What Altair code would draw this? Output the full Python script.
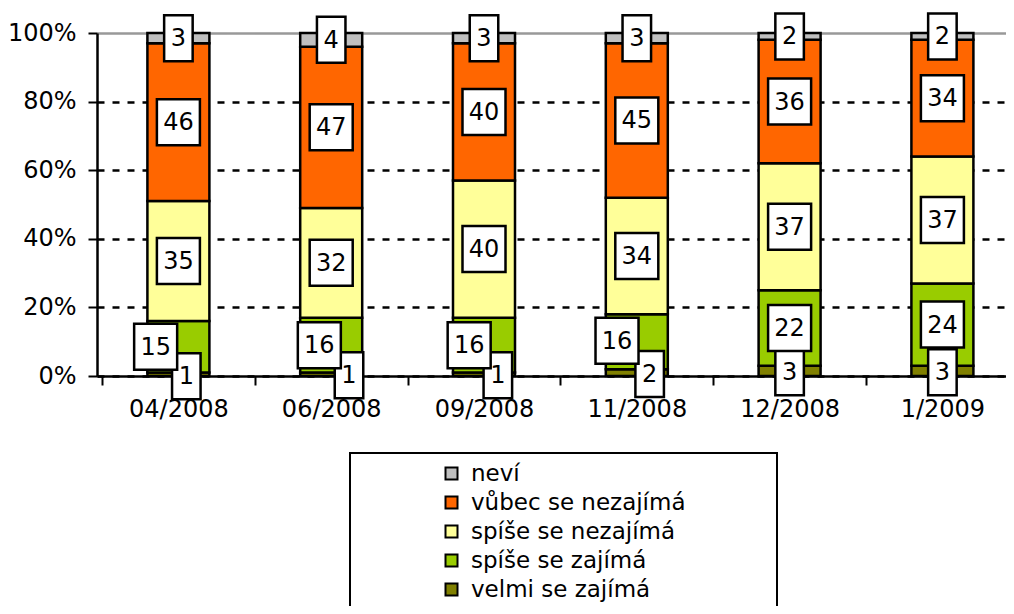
import json
import altair as alt
import pandas as pd

# ---------------- data ----------------
categories = ["04/2008", "06/2008", "09/2008", "11/2008", "12/2008", "1/2009"]
# stacking order: bottom -> top
series = ["velmi se zajímá", "spíše se zajímá", "spíše se nezajímá", "vůbec se nezajímá", "neví"]
velmi = [1, 1, 1, 2, 3, 3]
spise_zajima = [15, 16, 16, 16, 22, 24]
spise_nezajima = [35, 32, 40, 34, 37, 37]
vubec = [46, 47, 40, 45, 36, 34]
nevi = [3, 4, 3, 3, 2, 2]
values = [velmi, spise_zajima, spise_nezajima, vubec, nevi]
colors = ["#808000", "#99CC00", "#FFFF99", "#FF6600", "#C0C0C0"]

# label nudges in pixels (dx: right, dy: down) for the crowded small segments
nudge_dx = {"velmi se zajímá": [8, 18, 14, 13, 0, 0],
            "spíše se zajímá": [-23, -12, -15, -20, 0, 0]}
nudge_dy = {"velmi se zajímá": [2, 1, 1, 1.5, 1.5, 1.5],
            "spíše se zajímá": [0, 0, 0, -1, 0, 0]}

# ---------------- geometry ----------------
FONT = "DejaVu Sans"
PLOT_W, PLOT_H = 909, 343
PX_PER_CAT = 154.5
PX_PER_PCT = PLOT_H / 100.0
XMAX = -0.5 + PLOT_W / PX_PER_CAT

rows = []
for s_idx, (name, vals) in enumerate(zip(series, values)):
    for i, v in enumerate(vals):
        start = sum(values[k][i] for k in range(s_idx))
        end = start + v
        dx = nudge_dx.get(name, [0] * 6)[i]
        dy = nudge_dy.get(name, [0] * 6)[i]
        rows.append({
            "i": i, "series": name, "order": s_idx, "value": v,
            "start": start, "end": end,
            "lx": i + dx / PX_PER_CAT,
            "ly": (start + end) / 2 - dy / PX_PER_PCT,
            "digits": str(len(str(v))),
        })
df = pd.DataFrame(rows)

legend_order = series[::-1]
legend_colors = colors[::-1]

xscale = alt.Scale(domain=[-0.5, XMAX], nice=False, zero=False)
yscale = alt.Scale(domain=[0, 100], nice=False, zero=True)

yaxis = alt.Axis(
    values=[0, 20, 40, 60, 80, 100], labelExpr="datum.value + '%'",
    tickSize=9, tickWidth=2, tickColor="black",
    domainColor="black", domainWidth=2.5,
    labelFont=FONT, labelFontSize=24, labelColor="black", labelPadding=12,
    grid=True, gridWidth=2.5,
    gridColor={"condition": {"test": "datum.value === 100", "value": "#999999"}, "value": "black"},
    gridDash={"condition": {"test": "datum.value === 100", "value": [1, 0]}, "value": [7, 8]},
    title=None,
)

xaxis_labels = alt.Axis(
    values=list(range(len(categories))),
    labelExpr=json.dumps(categories) + "[datum.value]",
    ticks=False, tickSize=0, grid=False, labelFlush=False, labelOverlap=False,
    domainColor="black", domainWidth=2.5, orient="bottom",
    labelFont=FONT, labelFontSize=24, labelColor="black", labelPadding=21,
    title=None,
)
xaxis_ticks = alt.Axis(
    values=[k - 0.5 for k in range(len(categories))],
    labels=False, domain=False, grid=False, ticks=True,
    tickSize=9, tickWidth=2, tickColor="black", orient="bottom", title=None,
)

legend = alt.Legend(
    orient="none", legendX=253, legendY=420, direction="vertical",
    title="MMMM", titleOrient="right", titlePadding=0, titleOpacity=0,
    titleFont=FONT, titleFontSize=20.5,
    symbolType="square", symbolSize=144, symbolStrokeColor="black",
    symbolStrokeWidth=2, symbolOffset=81,
    labelFont=FONT, labelFontSize=23, labelColor="black", labelOffset=8,
    labelLimit=400, rowPadding=5, padding=9, strokeColor="black",
)

bars = alt.Chart(df).mark_bar(width=62, stroke="black", strokeWidth=2.5).encode(
    x=alt.X("i:Q", scale=xscale, axis=xaxis_labels),
    y=alt.Y("start:Q", scale=yscale, axis=yaxis),
    y2="end:Q",
    color=alt.Color("series:N", scale=alt.Scale(domain=legend_order, range=legend_colors),
                    legend=legend),
)

box1 = "M-0.62,-1H0.62V1H-0.62Z"
box2 = "M-0.935,-1H0.935V1H-0.935Z"
boxes = alt.Chart(df).mark_point(
    filled=True, fill="white", stroke="black", strokeWidth=2.5, opacity=1, size=2116
).encode(
    x=alt.X("lx:Q", scale=xscale, axis=xaxis_ticks),
    y=alt.Y("ly:Q", scale=yscale, axis=yaxis),
    shape=alt.Shape("digits:N", scale=alt.Scale(domain=["1", "2"], range=[box1, box2]),
                    legend=None),
)

texts = alt.Chart(df).mark_text(
    font=FONT, fontSize=24, color="black", baseline="middle", align="center", dy=1
).encode(
    x=alt.X("lx:Q", scale=xscale, axis=None),
    y=alt.Y("ly:Q", scale=yscale, axis=yaxis),
    text="value:Q",
)

chart = alt.layer(bars, boxes, texts).resolve_axis(x="independent").properties(
    width=PLOT_W, height=PLOT_H,
    autosize=alt.AutoSizeParams(type="none"),
    padding={"left": 89, "top": 25, "right": 0, "bottom": 230},
    background="white",
).configure_view(stroke=None).configure_legend(strokeWidth=2)

chart.save("out.html", embed_options={"renderer": "svg", "actions": False})
